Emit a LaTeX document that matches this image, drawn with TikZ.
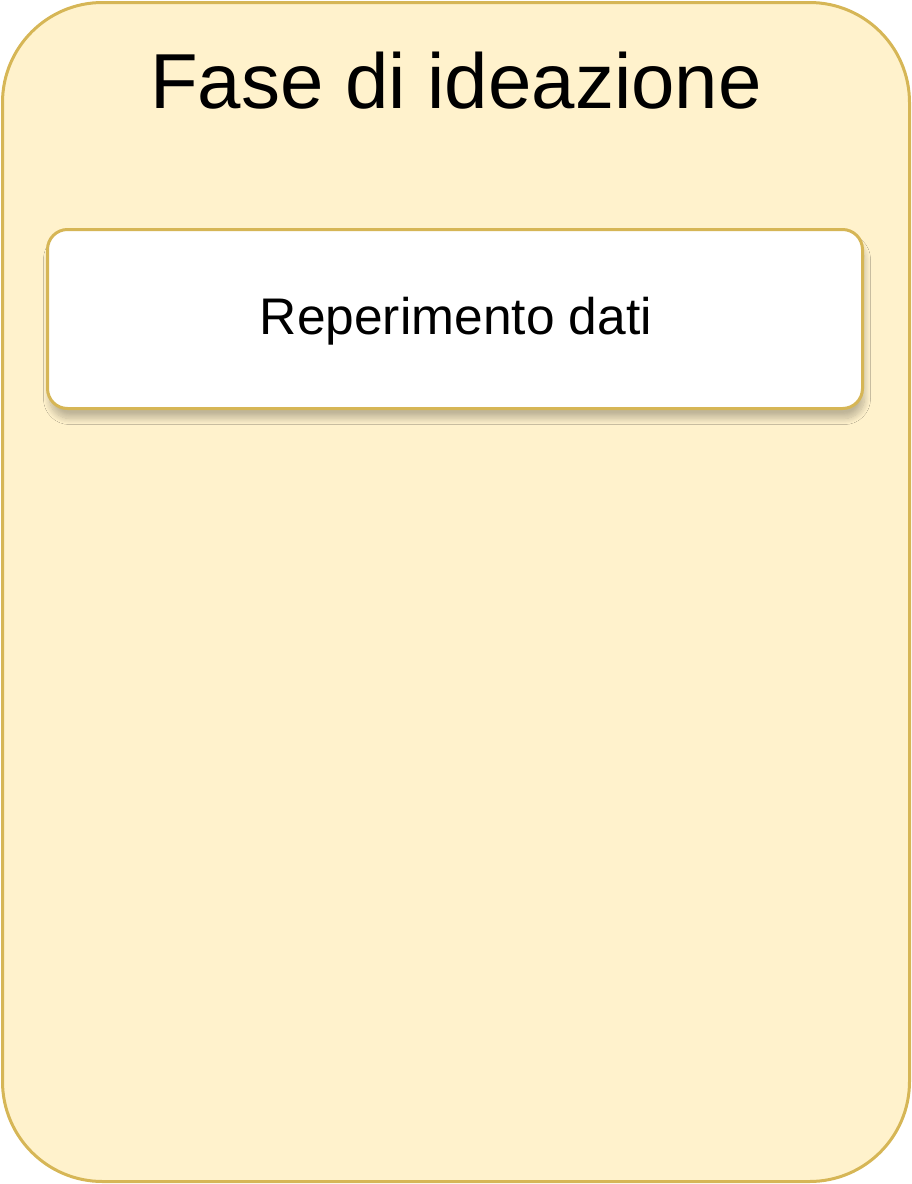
\documentclass[tikz,border=0pt]{standalone}
\usepackage{fontspec}
\setmainfont{Liberation Sans}
\usetikzlibrary{shadows.blur}
\definecolor{phasefill}{HTML}{FFF2CC}
\definecolor{phasedraw}{HTML}{D6B656}
\tikzset{
  phase/.style={rectangle, rounded corners=100pt, fill=phasefill, draw=phasedraw, line width=3pt, minimum width=907pt, minimum height=1179pt, inner sep=0pt},
  titletext/.style={font=\fontsize{78}{90}\selectfont, text=black, anchor=base, inner sep=0pt},
  taskbox/.style={rectangle, rounded corners=20pt, fill=white, draw=phasedraw, line width=3pt, minimum width=815pt, minimum height=179pt, inner sep=0pt,
    blur shadow={shadow xshift=2pt, shadow yshift=-10pt, shadow blur radius=6pt, shadow blur steps=12, shadow opacity=25}},
  tasktext/.style={font=\fontsize{51.5}{60}\selectfont, text=black, anchor=base, inner sep=0pt}
}
\begin{document}
\begin{tikzpicture}[x=1pt,y=-1pt]
\useasboundingbox (0,0) rectangle (912,1184);
\node[phase] (phase) at (456,592) {};
\node[titletext] (title) at (456,108) {Fase di ideazione};
\node[taskbox] (task) at (455,319) {};
\node[tasktext] (tasklabel) at (456,334) {Reperimento dati};
\end{tikzpicture}
\end{document}
